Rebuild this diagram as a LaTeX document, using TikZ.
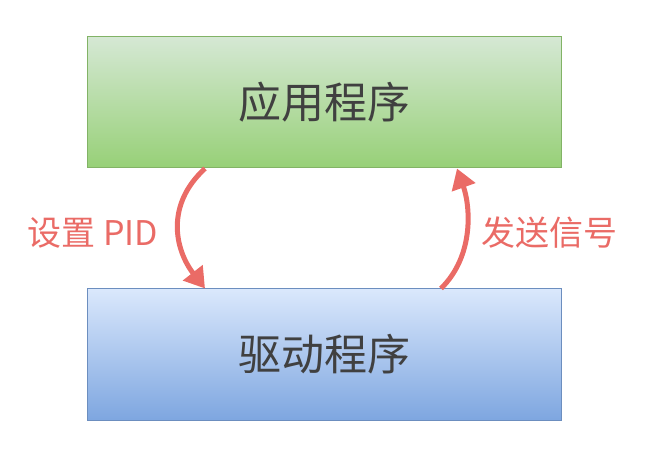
\documentclass[tikz,border=0pt]{standalone}
\usepackage{fontspec}
\setmainfont{Noto Sans CJK SC}
\usetikzlibrary{arrows.meta, positioning}
\definecolor{appGreenTop}{HTML}{D5E8D4}
\definecolor{appGreenBot}{HTML}{97D077}
\definecolor{appGreenLine}{HTML}{82B366}
\definecolor{drvBlueTop}{HTML}{DAE8FC}
\definecolor{drvBlueBot}{HTML}{7EA6E0}
\definecolor{drvBlueLine}{HTML}{6C8EBF}
\definecolor{sigRed}{HTML}{EA6B66}
\tikzset{
    % Base Block Style
    layer/.style={
        rectangle,
        minimum width=474pt,
        minimum height=131pt,
        font=\fontsize{43}{50}\selectfont,
        text=black!75,
        line width=1pt
    },
    layerApp/.style={layer, top color=appGreenTop, bottom color=appGreenBot, draw=appGreenLine},
    layerDrv/.style={layer, top color=drvBlueTop, bottom color=drvBlueBot, draw=drvBlueLine},
    % Arrow & Label Styles
    callArrow/.style={-{Triangle[length=20pt, width=24pt]}, line width=5pt, draw=sigRed},
    callLabel/.style={font=\fontsize{34}{40}\selectfont, text=sigRed}
}
\begin{document}
\begin{tikzpicture}[x=1pt, y=-1pt]
    \useasboundingbox (0,0) rectangle (648,470);

    % --- Boxes ---
    \node (app) [layerApp] at (324,102.5) {应用程序};
    \node (drv) [layerDrv] at (324,354.5) {驱动程序};

    % --- Arrows ---
    \draw [callArrow] (app.south -| 205,0) .. controls (165,205) and (175,250) .. (drv.north -| 205,0);
    \draw [callArrow] (drv.north -| 441,0) .. controls (475,255) and (470,205) .. (app.south -| 457,0);

    % --- Labels ---
    \node (setPid) [callLabel] at (93,233) {设置 PID};
    \node (sendSig) [callLabel] at (549,233) {发送信号};
\end{tikzpicture}
\end{document}
